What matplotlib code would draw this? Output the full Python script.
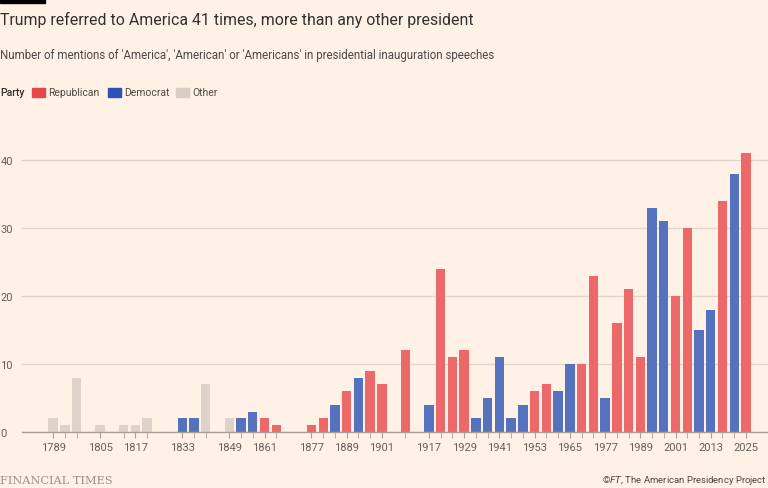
import matplotlib
matplotlib.use('Agg')
import matplotlib.pyplot as plt
from matplotlib.patches import Rectangle

# inauguration years with at least one mention, and the counts
years = [1789, 1793, 1797, 1805, 1813, 1817, 1821, 1833, 1837, 1841, 1849, 1853, 1857,
         1861, 1865, 1877, 1881, 1885, 1889, 1893, 1897, 1901, 1909, 1917, 1921, 1925,
         1929, 1933, 1937, 1941, 1945, 1949, 1953, 1957, 1961, 1965, 1969, 1973, 1977,
         1981, 1985, 1989, 1993, 1997, 2001, 2005, 2009, 2013, 2017, 2021, 2025]
mentions = [2, 1, 8, 1, 1, 1, 2, 2, 2, 7, 2, 2, 3,
            2, 1, 1, 2, 4, 6, 8, 9, 7, 12, 4, 24, 11,
            12, 2, 5, 11, 2, 4, 6, 7, 6, 10, 10, 23, 5,
            16, 21, 11, 33, 31, 20, 30, 15, 18, 34, 38, 41]
party = ['O', 'O', 'O', 'O', 'O', 'O', 'O', 'D', 'D', 'O', 'O', 'D', 'D',
         'R', 'R', 'R', 'R', 'D', 'R', 'D', 'R', 'R', 'R', 'D', 'R', 'R',
         'R', 'D', 'D', 'D', 'D', 'D', 'R', 'R', 'D', 'D', 'R', 'R', 'D',
         'R', 'R', 'R', 'D', 'D', 'R', 'R', 'D', 'D', 'R', 'D', 'R']
tick_years = [1789, 1805, 1817, 1833, 1849, 1861, 1877, 1889, 1901, 1917, 1929, 1941,
              1953, 1965, 1977, 1989, 2001, 2013, 2025]

bg = '#fff1e5'
legend_cols = {'R': '#e8474a', 'D': '#2b52b5', 'O': '#d8cdc4'}
bar_cols = {'R': '#ed6969', 'D': '#5572bf', 'O': '#ded3ca'}

fig = plt.figure(figsize=(7.68, 4.89), dpi=100, facecolor=bg)
ax = fig.add_axes([22 / 768, 1 - 433 / 489, 1 - 22 / 768, 0.6258])
ax.set_facecolor(bg)

ax.bar(years, mentions, width=3.2, color=[bar_cols[p] for p in party], zorder=3)

ax.set_xlim(1778.4, 2032.5)
ax.set_ylim(0, 45)
ax.set_yticks([0, 10, 20, 30, 40])
ax.yaxis.grid(True, color='#e3d5ca', linewidth=1, zorder=0)
# labels start at the figure's left edge, 22px left of the axes
ax.tick_params(axis='y', length=0, labelsize=8, labelcolor='#66605c', pad=15.5)
for lbl in ax.get_yticklabels():
    lbl.set_horizontalalignment('left')

ax.set_xticks(years, minor=True)
ax.set_xticks(tick_years)
ax.set_xticklabels([str(y) for y in tick_years])
ax.tick_params(axis='x', which='both', length=4, color='#a89f97', labelsize=8,
               labelcolor='#66605c', pad=3)

for s in ['top', 'right', 'left']:
    ax.spines[s].set_visible(False)
ax.spines['bottom'].set_color('#a89f97')
ax.spines['bottom'].set_linewidth(1)
ax.spines['bottom'].set_zorder(4)

for t in ax.get_xticklabels() + ax.get_yticklabels():
    t.set_fontfamily('Roboto')

# header
fig.patches.append(Rectangle((0, 1 - 4 / 489), 45 / 768, 4 / 489, transform=fig.transFigure,
                             color='#000000'))
fig.text(0, 1 - 20 / 489, 'Trump referred to America 41 times, more than any other president',
         fontsize=11.4, family='Roboto', color='#33302e', va='center')
fig.text(0, 1 - 56 / 489,
         "Number of mentions of 'America', 'American' or 'Americans' in presidential inauguration speeches",
         fontsize=8.3, family='Roboto', color='#4d4845', va='center')

# legend
ly = 1 - 93 / 489
fig.text(0, ly, 'Party', fontsize=7.5, family='Roboto', weight='medium', color='#33302e', va='center')
for x0, key, label in [(32, 'R', 'Republican'), (108, 'D', 'Democrat'), (176, 'O', 'Other')]:
    fig.patches.append(Rectangle((x0 / 768, ly - 4.5 / 489), 13 / 768, 9 / 489,
                                 transform=fig.transFigure, color=legend_cols[key]))
    fig.text((x0 + 16) / 768, ly, label, fontsize=7.5, family='Roboto', color='#4d4845', va='center')

# footer
fig.text(0, 1 - 481 / 489, 'FINANCIAL TIMES', fontsize=8.2, family='DejaVu Serif',
         color='#9a918a', va='center')
fig.text(0.998, 1 - 481 / 489, r'©$\it{FT}$, The American Presidency Project', fontsize=6.8,
         family='Roboto', color='#4d4845', va='center', ha='right')

fig.savefig('out.png', dpi=100, facecolor=bg)
